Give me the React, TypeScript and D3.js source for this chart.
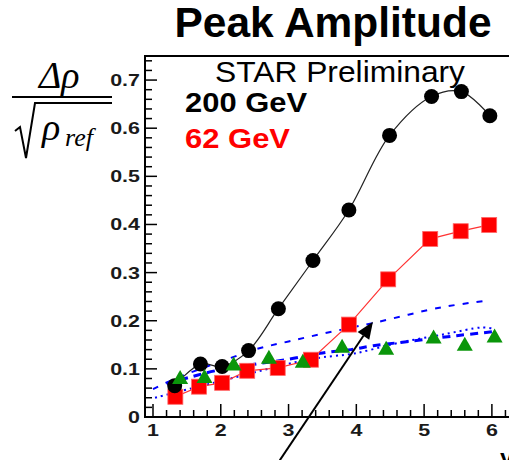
import React, { useRef, useEffect } from "react";
import * as d3 from "d3";

// 200 GeV (black circles)
const x200 = [1.32, 1.7, 2.02, 2.41, 2.85, 3.36, 3.89, 4.49, 5.11, 5.55, 5.97];
const y200 = [0.065, 0.11, 0.105, 0.138, 0.225, 0.325, 0.43, 0.585, 0.666, 0.676, 0.626];

// 62 GeV (red squares)
const x62 = [1.33, 1.68, 2.02, 2.39, 2.84, 3.33, 3.89, 4.47, 5.09, 5.54, 5.96];
const y62 = [0.042, 0.063, 0.071, 0.096, 0.102, 0.119, 0.192, 0.286, 0.37, 0.386, 0.399];

// green triangles
const xGreen = [1.4, 1.76, 2.19, 2.71, 3.21, 3.79, 4.44, 5.14, 5.6, 6.04];
const yGreen = [0.081, 0.083, 0.109, 0.123, 0.115, 0.146, 0.142, 0.165, 0.15, 0.167];

// blue model curves
const xUpper = [1.0, 1.3, 1.7, 2.0, 2.5, 3.0, 3.6, 4.27, 5.26, 5.95];
const yUpper = [0.058, 0.078, 0.1, 0.115, 0.14, 0.157, 0.176, 0.196, 0.228, 0.242];
const xMiddle = [1.2, 1.55, 1.92, 2.47, 3.0, 3.5, 3.92, 4.25, 4.78, 5.48, 6.0];
const yMiddle = [0.069, 0.083, 0.096, 0.109, 0.12, 0.133, 0.14, 0.148, 0.157, 0.169, 0.177];
const xDotted = [1.03, 1.3, 1.7, 2.2, 2.7, 3.2, 3.5, 3.97, 4.62, 5.3, 5.85, 6.0];
const yDotted = [0.04, 0.05, 0.064, 0.082, 0.1, 0.117, 0.124, 0.132, 0.154, 0.172, 0.186, 0.184];

// arrow annotation (data coords: tail, tip)
const arrowX = [2.87, 4.245];
const arrowY = [-0.09, 0.198];

const xTickLabels = ["1", "2", "3", "4", "5", "6"];
const yTickLabels = ["0", "0.1", "0.2", "0.3", "0.4", "0.5", "0.6", "0.7"];

const zip = (xs: number[], ys: number[]) => xs.map((x, i) => [x, ys[i]] as [number, number]);

const SANS = "Liberation Sans, Arial, sans-serif";

const App = () => {
  const svgRef = useRef<SVGSVGElement>(null);

  useEffect(() => {
    const svg = d3.select(svgRef.current);
    svg.selectAll("*").remove();
    const width = 509;
    const height = 460;
    svg.attr("width", width).attr("height", height);

    const x = d3.scaleLinear().domain([0.882, 6.4]).range([145, 519]);
    const y = d3.scaleLinear().domain([0, 0.75]).range([417, 56]);
    const sx = 1.3; // tick labels look stretched horizontally

    svg.append("rect").attr("width", width).attr("height", height).attr("fill", "#fff");

    // Title
    svg.append("text")
      .attr("x", 333).attr("y", 37)
      .attr("text-anchor", "middle")
      .attr("font-family", SANS)
      .attr("font-weight", 700)
      .attr("font-size", 42)
      .attr("textLength", 317).attr("lengthAdjust", "spacingAndGlyphs")
      .text("Peak Amplitude");

    // Frame
    svg.append("rect")
      .attr("x", 145).attr("y", y(0.75))
      .attr("width", 519 - 145).attr("height", y(0) - y(0.75))
      .attr("fill", "none").attr("stroke", "#000").attr("stroke-width", 2);

    // Ticks
    const g = svg.append("g").attr("stroke", "#000").attr("stroke-width", 1.5);
    d3.range(0, 0.75 + 1e-9, 0.02).forEach((v) => {
      const major = Math.abs(v * 10 - Math.round(v * 10)) < 1e-6;
      g.append("line").attr("x1", 145).attr("x2", 145 + (major ? 12 : 7))
        .attr("y1", y(v)).attr("y2", y(v));
    });
    d3.range(1, 6.4, 0.2).forEach((v) => {
      const major = Math.abs(v - Math.round(v)) < 1e-6;
      g.append("line").attr("x1", x(v)).attr("x2", x(v))
        .attr("y1", 417).attr("y2", 417 - (major ? 13 : 7));
    });

    // Tick labels
    yTickLabels.forEach((t) => {
      svg.append("text")
        .attr("transform", `translate(140,${y(+t) + 6}) scale(${sx},1)`)
        .attr("text-anchor", "end")
        .attr("font-family", SANS)
        .attr("font-weight", 700).attr("font-size", 16.5).attr("fill", "#1a1a1a")
        .text(t);
    });
    xTickLabels.forEach((t) => {
      svg.append("text")
        .attr("transform", `translate(${x(+t)},436) scale(${sx},1)`)
        .attr("text-anchor", "middle")
        .attr("font-family", SANS)
        .attr("font-weight", 700).attr("font-size", 16.5).attr("fill", "#1a1a1a")
        .text(t);
    });

    // x axis title (cut at the edge, as in the source)
    svg.append("text")
      .attr("x", 500).attr("y", 466)
      .attr("font-family", SANS)
      .attr("font-weight", 700).attr("font-size", 24)
      .text("y");

    // Y axis label: Δρ / sqrt(ρ_ref)
    const lab = svg.append("g").attr("font-family", "Liberation Serif, Times New Roman, serif")
      .attr("font-style", "italic");
    lab.append("text").attr("x", 39).attr("y", 88)
      .attr("font-size", 38).text("Δρ");
    lab.append("line").attr("x1", 12).attr("x2", 112).attr("y1", 97).attr("y2", 97)
      .attr("stroke", "#000").attr("stroke-width", 2);
    lab.append("path").attr("d", "M15,131 L20,127 L26,158 L35,103 L112,103")
      .attr("fill", "none").attr("stroke", "#000").attr("stroke-width", 2);
    lab.append("text").attr("x", 42).attr("y", 140)
      .attr("font-size", 38).text("ρ");
    lab.append("text").attr("x", 65).attr("y", 146)
      .attr("font-size", 26).text("ref");

    // Legend text
    svg.append("text")
      .attr("x", 215).attr("y", 82)
      .attr("font-family", SANS)
      .attr("font-size", 29).attr("textLength", 250).attr("lengthAdjust", "spacingAndGlyphs")
      .text("STAR Preliminary");
    svg.append("text")
      .attr("x", 185).attr("y", 112)
      .attr("font-family", SANS)
      .attr("font-weight", 700).attr("font-size", 28)
      .attr("textLength", 122).attr("lengthAdjust", "spacingAndGlyphs")
      .text("200 GeV");
    svg.append("text")
      .attr("x", 185).attr("y", 148)
      .attr("font-family", SANS)
      .attr("font-weight", 700).attr("font-size", 28).attr("fill", "#ff0000")
      .attr("textLength", 105).attr("lengthAdjust", "spacingAndGlyphs")
      .text("62 GeV");

    // Blue model curves
    const curve = d3.line<[number, number]>()
      .x((d) => x(d[0])).y((d) => y(d[1]))
      .curve(d3.curveCatmullRom);
    svg.append("path").attr("d", curve(zip(xUpper, yUpper)))
      .attr("fill", "none").attr("stroke", "#0000ff").attr("stroke-width", 2)
      .attr("stroke-dasharray", "6,8");
    svg.append("path").attr("d", curve(zip(xMiddle, yMiddle)))
      .attr("fill", "none").attr("stroke", "#0000ff").attr("stroke-width", 3)
      .attr("stroke-dasharray", "8,6");
    svg.append("path").attr("d", curve(zip(xDotted, yDotted)))
      .attr("fill", "none").attr("stroke", "#0000ff").attr("stroke-width", 2)
      .attr("stroke-dasharray", "2,4");

    // 62 GeV line
    const straight = d3.line<[number, number]>().x((d) => x(d[0])).y((d) => y(d[1]));
    svg.append("path").attr("d", straight(zip(x62, y62)))
      .attr("fill", "none").attr("stroke", "#ff3333").attr("stroke-width", 1.2);

    // 200 GeV smooth line
    svg.append("path").attr("d", curve(zip(x200, y200)))
      .attr("fill", "none").attr("stroke", "#222").attr("stroke-width", 1.2);

    svg.append("g").selectAll("rect").data(zip(x62, y62)).join("rect")
      .attr("x", (d) => x(d[0]) - 7.5).attr("y", (d) => y(d[1]) - 7.5)
      .attr("width", 15).attr("height", 15)
      .attr("fill", "#ff0000").attr("stroke", "#ff6666").attr("stroke-width", 0.8);

    svg.append("g").selectAll("circle").data(zip(x200, y200)).join("circle")
      .attr("cx", (d) => x(d[0])).attr("cy", (d) => y(d[1])).attr("r", 7.5)
      .attr("fill", "#000");

    svg.append("g").selectAll("path").data(zip(xGreen, yGreen)).join("path")
      .attr("d", (d) => {
        const cx = x(d[0]);
        const cy = y(d[1]);
        return `M${cx},${cy - 8}L${cx + 8},${cy + 6}L${cx - 8},${cy + 6}Z`;
      })
      .attr("fill", "#0a960a");

    // Arrow
    const ax0 = x(arrowX[0]), ay0 = y(arrowY[0]);
    const ax1 = x(arrowX[1]), ay1 = y(arrowY[1]);
    const ang = Math.atan2(ay1 - ay0, ax1 - ax0);
    const len = 17, half = 7;
    const bx = ax1 - len * Math.cos(ang), by = ay1 - len * Math.sin(ang);
    svg.append("line").attr("x1", ax0).attr("y1", ay0).attr("x2", bx).attr("y2", by)
      .attr("stroke", "#000").attr("stroke-width", 2);
    svg.append("path")
      .attr("d", `M${ax1},${ay1}L${bx + half * Math.sin(ang)},${by - half * Math.cos(ang)}L${bx - half * Math.sin(ang)},${by + half * Math.cos(ang)}Z`)
      .attr("fill", "#000");
  }, []);

  return (
    <div style={{ position: "absolute", left: 0, top: 0 }}>
      <svg ref={svgRef} style={{ display: "block" }}></svg>
    </div>
  );
};

export default App;
